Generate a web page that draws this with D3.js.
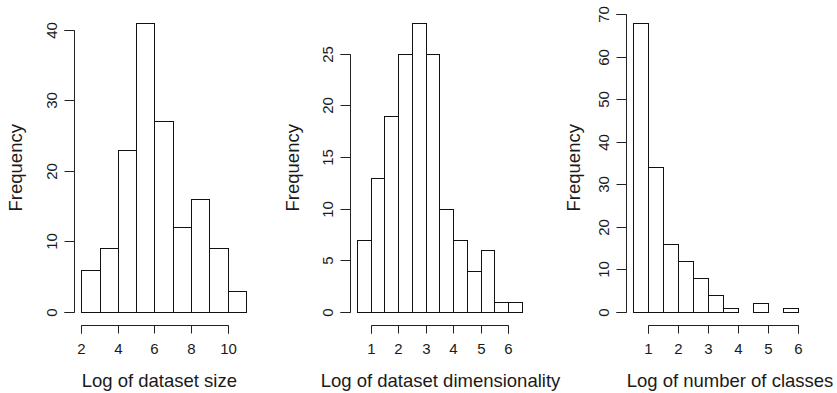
<!DOCTYPE html>
<html><head><meta charset="utf-8">
<script src="https://cdn.jsdelivr.net/npm/d3@7"></script>
<style>body{margin:0;background:#fff}svg{display:block}text{font-family:"Liberation Sans",Arial,Helvetica,sans-serif;fill:#1a1a1a}</style>
</head><body><svg id="c" width="837" height="393"></svg>
<script>
// Panel 1: Log of dataset size
const sizeBinStarts = [2,3,4,5,6,7,8,9,10];
const sizeCounts    = [6,9,23,41,27,12,16,9,3];
const sizeXTicks    = [2,4,6,8,10];
const sizeYTicks    = [0,10,20,30,40];
// Panel 2: Log of dataset dimensionality
const dimBinStarts = [0.5,1,1.5,2,2.5,3,3.5,4,4.5,5,5.5,6];
const dimCounts    = [7,13,19,25,28,25,10,7,4,6,1,1];
const dimXTicks    = [1,2,3,4,5,6];
const dimYTicks    = [0,5,10,15,20,25];
// Panel 3: Log of number of classes
const clsBinStarts = [0.5,1,1.5,2,2.5,3,3.5,4,4.5,5,5.5];
const clsCounts    = [68,34,16,12,8,4,1,0,2,0,1];
const clsXTicks    = [1,2,3,4,5,6];
const clsYTicks    = [0,10,20,30,40,50,60,70];

const titles = ["Log of dataset size","Log of dataset dimensionality","Log of number of classes"];

const panels = [
  {starts:sizeBinStarts, counts:sizeCounts, w:1,   xt:sizeXTicks, yt:sizeYTicks, title:titles[0],
   xdom:[2,11], xr:[81.7,246.6], yaxisX:74.5, ylabX:16, titleX:159.3},
  {starts:dimBinStarts, counts:dimCounts, w:0.5, xt:dimXTicks, yt:dimYTicks, title:titles[1],
   xdom:[0.5,6.5], xr:[357.3,522.3], yaxisX:350.5, ylabX:293, titleX:440.5},
  {starts:clsBinStarts, counts:clsCounts, w:0.5, xt:clsXTicks, yt:clsYTicks, title:titles[2],
   xdom:[0.5,6], xr:[633.5,798.7], yaxisX:626.5, ylabX:574, titleX:730}
];

const svg = d3.select("#c");
const y0 = 312.5, yTop = 23, xAxisY = 325.5;
const FS = 15, LFS = 18.5;
const snap = v => Math.round(v - 0.5) + 0.5;

panels.forEach(p => {
  const x = d3.scaleLinear().domain(p.xdom).range(p.xr);
  const ymax = d3.max(p.counts);
  const y = d3.scaleLinear().domain([0, ymax]).range([y0, yTop]);
  const g = svg.append("g");
  // bars
  g.selectAll("rect").data(p.counts.map((c,i)=>({s:p.starts[i], c})))
    .join("rect")
    .attr("x", d => snap(x(d.s)))
    .attr("width", d => snap(x(d.s + p.w)) - snap(x(d.s)))
    .attr("y", d => snap(y(d.c)))
    .attr("height", d => snap(y(0)) - snap(y(d.c)))
    .attr("fill", "#fff").attr("stroke", "#111").attr("stroke-width", 1);
  // x axis
  const xa = g.append("g").attr("transform", `translate(0,${xAxisY})`)
    .call(d3.axisBottom(x).tickValues(p.xt).tickSize(8).tickPadding(10).tickFormat(d3.format("d")));
  xa.selectAll(".tick").attr("transform", d => `translate(${snap(x(d))},0)`);
  xa.select(".domain").attr("d", `M${snap(x(p.xt[0]))},8V0H${snap(x(p.xt[p.xt.length-1]))}V8`).attr("stroke","#222");
  xa.selectAll("line").attr("stroke","#222");
  xa.selectAll("text").attr("font-size", FS).attr("font-family", null).attr("fill","#1a1a1a");
  // y axis
  const ya = g.append("g").attr("transform", `translate(${p.yaxisX},0)`)
    .call(d3.axisLeft(y).tickValues(p.yt).tickSize(10).tickPadding(0).tickFormat(d3.format("d")));
  ya.selectAll(".tick").attr("transform", d => `translate(0,${snap(y(d))})`);
  const yt0 = p.yt[0], yt1 = p.yt[p.yt.length-1];
  ya.select(".domain").attr("d", `M-10,${snap(y(yt0))}H0V${snap(y(yt1))}H-10`).attr("stroke","#222");
  ya.selectAll("line").attr("stroke","#222");
  ya.selectAll(".tick text").attr("font-size", FS).attr("font-family", null).attr("fill","#1a1a1a")
    .attr("x", null)
    .attr("text-anchor","middle")
    .attr("transform", "translate(-23,0) rotate(-90)")
    .attr("dy", "0.35em");
  // y label
  g.append("text").attr("transform", `translate(${p.ylabX},${(y0+yTop)/2}) rotate(-90)`)
    .attr("text-anchor","middle").attr("dy","0.35em").attr("font-size", LFS).text("Frequency");
  // x title
  g.append("text").attr("x", p.titleX)
    .attr("y", 387).attr("text-anchor","middle").attr("font-size", LFS).text(p.title);
});
</script></body></html>
